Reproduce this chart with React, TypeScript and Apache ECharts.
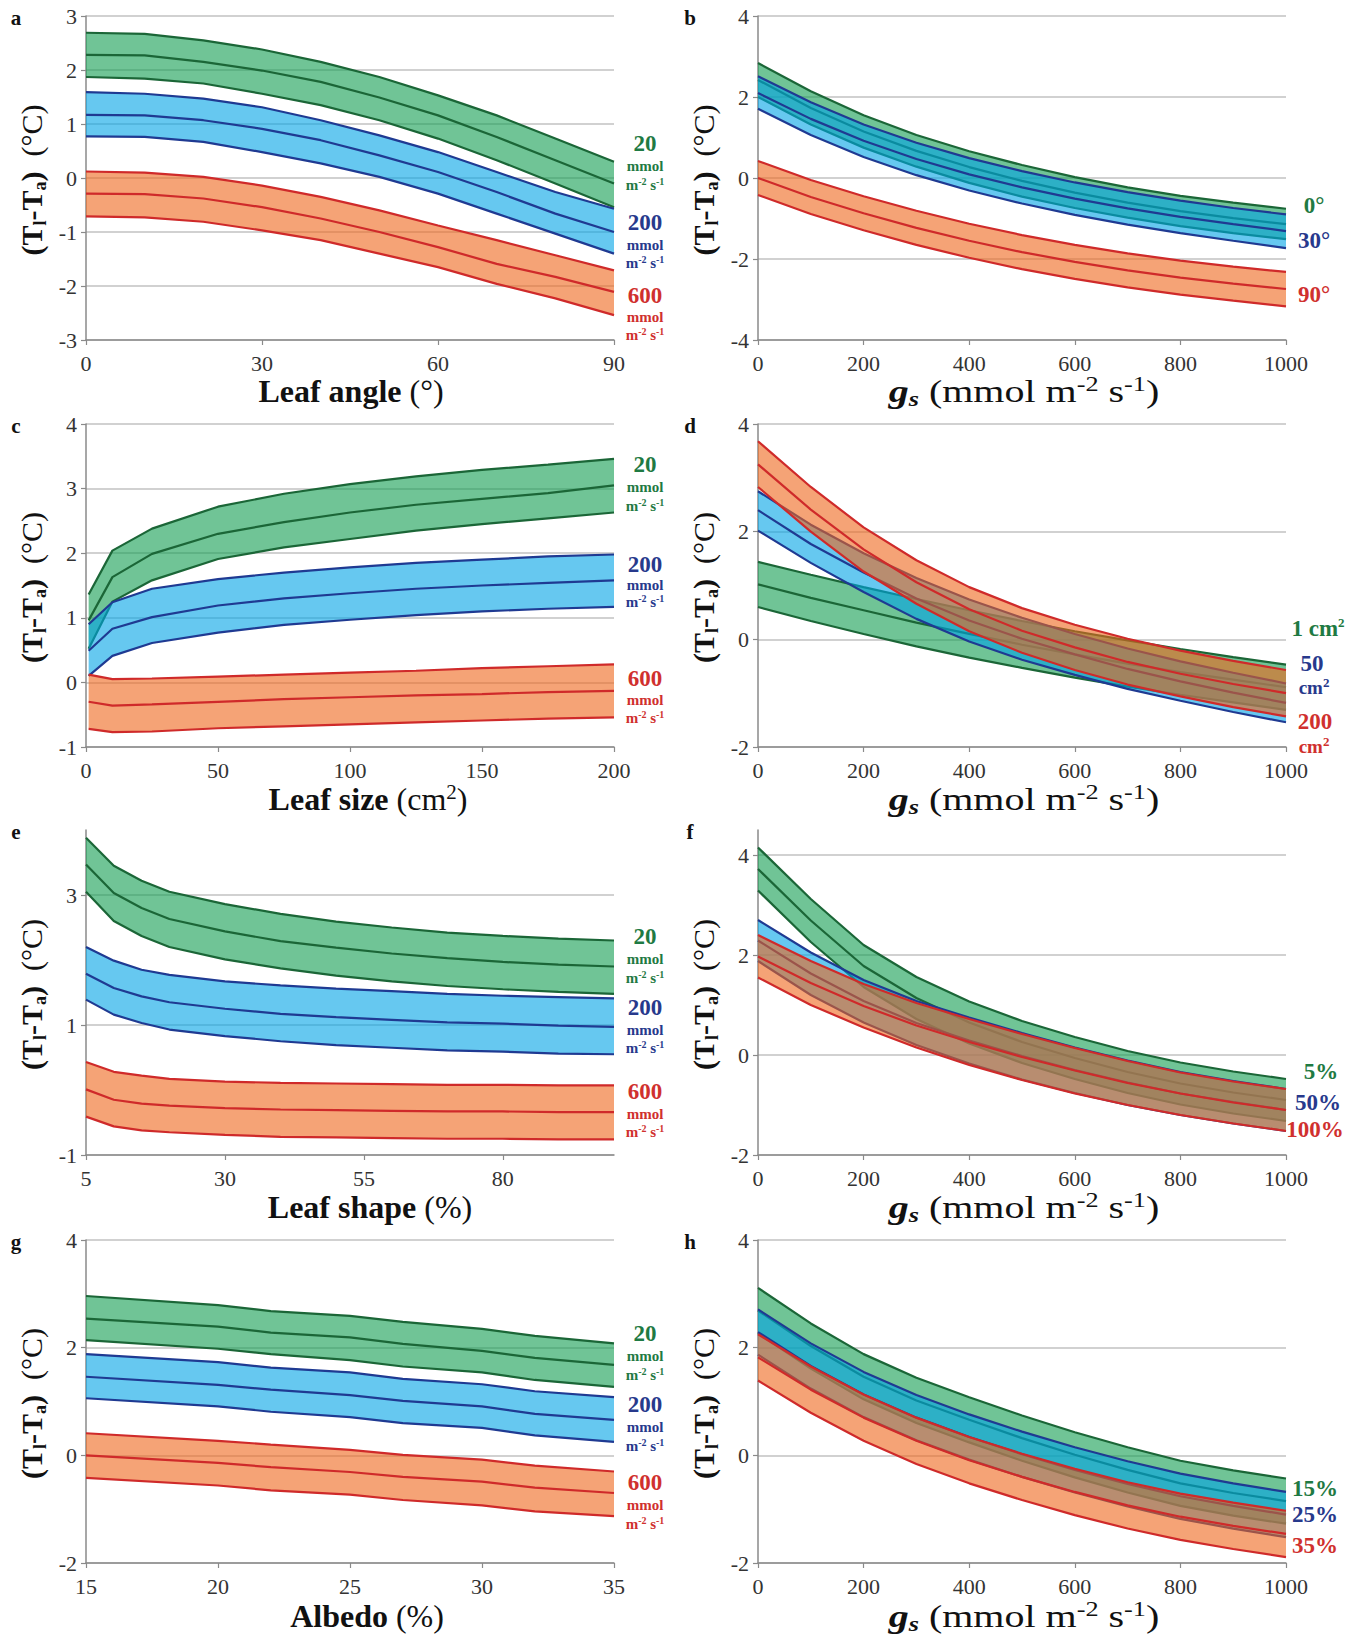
import React, { useEffect, useRef } from 'react';
import * as echarts from 'echarts';

const FONT = "'Liberation Serif', 'Times New Roman', serif";

// ---------- Panel a : leaf angle ----------
const aX = [0, 10, 20, 30, 40, 50, 60, 70, 80, 90];
const a20Up = [2.69, 2.67, 2.55, 2.38, 2.15, 1.87, 1.53, 1.16, 0.73, 0.30];
const a20Mid = [2.28, 2.27, 2.15, 1.99, 1.78, 1.49, 1.16, 0.76, 0.33, -0.10];
const a20Lo = [1.87, 1.84, 1.75, 1.56, 1.35, 1.07, 0.73, 0.33, -0.10, -0.54];
const a200Up = [1.59, 1.56, 1.47, 1.31, 1.07, 0.79, 0.48, 0.11, -0.26, -0.57];
const a200Mid = [1.17, 1.16, 1.07, 0.91, 0.70, 0.42, 0.11, -0.26, -0.66, -1.00];
const a200Lo = [0.77, 0.76, 0.67, 0.48, 0.27, 0.02, -0.29, -0.66, -1.03, -1.40];
const a600Up = [0.12, 0.10, 0.02, -0.14, -0.35, -0.60, -0.88, -1.15, -1.43, -1.71];
const a600Mid = [-0.29, -0.30, -0.38, -0.54, -0.75, -1.00, -1.28, -1.59, -1.83, -2.11];
const a600Lo = [-0.71, -0.73, -0.81, -0.97, -1.15, -1.40, -1.65, -1.96, -2.23, -2.54];
const aXTicks = [0, 30, 60, 90];
const aYTicks = [-3, -2, -1, 0, 1, 2, 3];

// ---------- gs axis shared by b, d, f, h ----------
const gsX = [0, 100, 200, 300, 400, 500, 600, 700, 800, 900, 1000];
const gsTicks = [0, 200, 400, 600, 800, 1000];

// ---------- Panel b : leaf angle vs gs ----------
const b0Up = [2.84, 2.14, 1.55, 1.06, 0.66, 0.32, 0.02, -0.23, -0.44, -0.61, -0.76];
const b0Mid = [2.42, 1.73, 1.15, 0.67, 0.27, -0.07, -0.36, -0.61, -0.82, -0.99, -1.14];
const b0Lo = [2.00, 1.32, 0.75, 0.28, -0.12, -0.46, -0.74, -0.98, -1.19, -1.36, -1.51];
const b30Up = [2.51, 1.87, 1.32, 0.87, 0.49, 0.17, -0.11, -0.35, -0.56, -0.74, -0.90];
const b30Mid = [2.10, 1.46, 0.92, 0.47, 0.09, -0.23, -0.51, -0.75, -0.96, -1.14, -1.31];
const b30Lo = [1.71, 1.06, 0.52, 0.07, -0.31, -0.63, -0.91, -1.15, -1.36, -1.55, -1.73];
const b90Up = [0.42, -0.05, -0.45, -0.81, -1.13, -1.41, -1.65, -1.86, -2.04, -2.19, -2.32];
const b90Mid = [0.00, -0.47, -0.87, -1.23, -1.55, -1.83, -2.07, -2.28, -2.46, -2.61, -2.74];
const b90Lo = [-0.42, -0.89, -1.29, -1.65, -1.97, -2.25, -2.49, -2.70, -2.88, -3.03, -3.17];
const bYTicks = [-4, -2, 0, 2, 4];

// ---------- Panel c : leaf size ----------
const cX = [1, 10, 25, 50, 75, 100, 125, 150, 175, 200];
const c20Up = [1.36, 2.04, 2.38, 2.72, 2.92, 3.07, 3.19, 3.29, 3.37, 3.46];
const c20Mid = [0.96, 1.63, 1.99, 2.30, 2.48, 2.63, 2.75, 2.84, 2.93, 3.05];
const c20Lo = [0.52, 1.25, 1.58, 1.91, 2.09, 2.22, 2.35, 2.45, 2.54, 2.63];
const c200Up = [0.90, 1.24, 1.45, 1.60, 1.70, 1.78, 1.85, 1.90, 1.95, 1.98];
const c200Mid = [0.49, 0.83, 1.01, 1.19, 1.30, 1.38, 1.45, 1.50, 1.54, 1.58];
const c200Lo = [0.10, 0.41, 0.61, 0.77, 0.89, 0.97, 1.04, 1.10, 1.14, 1.17];
const c600Up = [0.12, 0.05, 0.06, 0.09, 0.12, 0.15, 0.18, 0.22, 0.25, 0.28];
const c600Mid = [-0.30, -0.36, -0.34, -0.30, -0.26, -0.23, -0.20, -0.18, -0.15, -0.13];
const c600Lo = [-0.72, -0.77, -0.76, -0.71, -0.68, -0.65, -0.62, -0.59, -0.56, -0.54];
const cXTicks = [0, 50, 100, 150, 200];
const cYTicks = [-1, 0, 1, 2, 3, 4];

// ---------- Panel d : leaf size vs gs ----------
const d1Up = [1.44, 1.20, 0.97, 0.75, 0.54, 0.34, 0.15, -0.02, -0.18, -0.33, -0.47];
const d1Mid = [1.02, 0.77, 0.54, 0.31, 0.10, -0.10, -0.28, -0.45, -0.61, -0.75, -0.89];
const d1Lo = [0.60, 0.34, 0.10, -0.13, -0.34, -0.53, -0.71, -0.88, -1.03, -1.17, -1.31];
const d50Up = [2.75, 2.13, 1.60, 1.14, 0.74, 0.40, 0.10, -0.17, -0.41, -0.62, -0.82];
const d50Mid = [2.40, 1.77, 1.24, 0.76, 0.35, 0.01, -0.28, -0.55, -0.78, -0.99, -1.18];
const d50Lo = [2.02, 1.42, 0.88, 0.38, -0.04, -0.38, -0.66, -0.92, -1.14, -1.35, -1.54];
const d200Up = [3.68, 2.83, 2.08, 1.47, 0.97, 0.58, 0.27, 0.01, -0.21, -0.40, -0.57];
const d200Mid = [3.25, 2.41, 1.67, 1.06, 0.56, 0.16, -0.15, -0.42, -0.64, -0.83, -1.00];
const d200Lo = [2.83, 2.00, 1.26, 0.66, 0.15, -0.25, -0.57, -0.84, -1.06, -1.26, -1.43];
const dYTicks = [-2, 0, 2, 4];

// ---------- Panel e : leaf shape ----------
const eX = [5, 10, 15, 20, 30, 40, 50, 60, 70, 80, 90, 100];
const e20Up = [3.88, 3.45, 3.22, 3.05, 2.86, 2.71, 2.59, 2.50, 2.42, 2.37, 2.33, 2.30];
const e20Mid = [3.47, 3.03, 2.80, 2.63, 2.44, 2.29, 2.19, 2.10, 2.03, 1.97, 1.93, 1.90];
const e20Lo = [3.05, 2.60, 2.37, 2.20, 2.01, 1.87, 1.76, 1.67, 1.60, 1.55, 1.51, 1.48];
const e200Up = [2.20, 1.99, 1.85, 1.77, 1.67, 1.61, 1.56, 1.52, 1.48, 1.45, 1.43, 1.41];
const e200Mid = [1.79, 1.57, 1.44, 1.35, 1.25, 1.17, 1.12, 1.08, 1.04, 1.02, 0.99, 0.97];
const e200Lo = [1.39, 1.16, 1.03, 0.93, 0.83, 0.75, 0.69, 0.65, 0.61, 0.59, 0.56, 0.55];
const e600Up = [0.43, 0.28, 0.22, 0.17, 0.13, 0.11, 0.10, 0.09, 0.08, 0.08, 0.07, 0.07];
const e600Mid = [0.01, -0.15, -0.21, -0.24, -0.28, -0.30, -0.31, -0.32, -0.33, -0.33, -0.34, -0.34];
const e600Lo = [-0.41, -0.56, -0.62, -0.65, -0.69, -0.72, -0.73, -0.74, -0.75, -0.75, -0.76, -0.76];
const eXTicks = [5, 30, 55, 80];
const eYTicks = [-1, 1, 3];

// ---------- Panel f : leaf shape vs gs ----------
const f5Up = [4.15, 3.12, 2.20, 1.56, 1.07, 0.68, 0.36, 0.08, -0.15, -0.33, -0.48];
const f5Mid = [3.72, 2.69, 1.78, 1.14, 0.65, 0.26, -0.06, -0.34, -0.57, -0.75, -0.90];
const f5Lo = [3.29, 2.26, 1.36, 0.72, 0.23, -0.16, -0.48, -0.76, -0.99, -1.17, -1.32];
const f50Up = [2.70, 2.05, 1.50, 1.08, 0.75, 0.44, 0.15, -0.11, -0.34, -0.52, -0.68];
const f50Mid = [2.29, 1.63, 1.08, 0.64, 0.29, -0.02, -0.30, -0.55, -0.77, -0.94, -1.10];
const f50Lo = [1.88, 1.20, 0.65, 0.20, -0.17, -0.49, -0.76, -1.00, -1.20, -1.37, -1.52];
const f100Up = [2.40, 1.88, 1.42, 1.04, 0.72, 0.42, 0.14, -0.12, -0.35, -0.53, -0.68];
const f100Mid = [1.97, 1.44, 0.98, 0.59, 0.26, -0.04, -0.31, -0.56, -0.77, -0.95, -1.10];
const f100Lo = [1.55, 1.00, 0.55, 0.15, -0.20, -0.50, -0.77, -1.00, -1.20, -1.37, -1.52];
const fYTicks = [-2, 0, 2, 4];

// ---------- Panel g : albedo ----------
const gX = [15, 20, 22, 25, 27, 30, 32, 35];
const g20Up = [2.96, 2.79, 2.68, 2.59, 2.48, 2.35, 2.22, 2.08];
const g20Mid = [2.54, 2.39, 2.28, 2.19, 2.07, 1.94, 1.81, 1.68];
const g20Lo = [2.14, 1.98, 1.88, 1.77, 1.65, 1.54, 1.40, 1.27];
const g200Up = [1.88, 1.73, 1.63, 1.54, 1.42, 1.32, 1.19, 1.08];
const g200Mid = [1.46, 1.31, 1.22, 1.12, 1.01, 0.91, 0.77, 0.66];
const g200Lo = [1.06, 0.91, 0.81, 0.71, 0.60, 0.51, 0.37, 0.25];
const g600Up = [0.41, 0.27, 0.20, 0.10, 0.01, -0.08, -0.19, -0.30];
const g600Mid = [0.00, -0.14, -0.22, -0.31, -0.40, -0.49, -0.60, -0.70];
const g600Lo = [-0.42, -0.56, -0.65, -0.73, -0.83, -0.93, -1.04, -1.13];
const gXTicks = [15, 20, 25, 30, 35];
const gYTicks = [-2, 0, 2, 4];

// ---------- Panel h : albedo vs gs ----------
const h15Up = [3.11, 2.45, 1.88, 1.44, 1.08, 0.74, 0.43, 0.15, -0.10, -0.28, -0.43];
const h15Mid = [2.69, 2.03, 1.46, 1.02, 0.66, 0.32, 0.01, -0.27, -0.52, -0.70, -0.85];
const h15Lo = [2.27, 1.61, 1.04, 0.60, 0.24, -0.10, -0.41, -0.69, -0.94, -1.12, -1.27];
const h25Up = [2.71, 2.08, 1.55, 1.12, 0.76, 0.44, 0.15, -0.11, -0.34, -0.52, -0.68];
const h25Mid = [2.29, 1.66, 1.13, 0.70, 0.34, 0.02, -0.27, -0.53, -0.76, -0.94, -1.10];
const h25Lo = [1.87, 1.24, 0.71, 0.28, -0.08, -0.40, -0.69, -0.95, -1.18, -1.36, -1.52];
const h35Up = [2.25, 1.65, 1.13, 0.70, 0.34, 0.03, -0.25, -0.50, -0.71, -0.88, -1.03];
const h35Mid = [1.82, 1.22, 0.70, 0.27, -0.09, -0.40, -0.68, -0.93, -1.14, -1.31, -1.46];
const h35Lo = [1.39, 0.79, 0.27, -0.16, -0.52, -0.83, -1.11, -1.36, -1.57, -1.74, -1.89];
const hYTicks = [-2, 0, 2, 4];

// ---------- styles ----------
const COL = {
  g: { fill: 'rgba(17,157,80,0.6)', line: '#1b6637', text: '#1f7a43' },
  b: { fill: 'rgba(0,163,230,0.6)', line: '#1f3a92', text: '#27398c' },
  r: { fill: 'rgba(238,102,27,0.6)', line: '#cf2a2a', text: '#d0302e' },
};

const GRIDS = [
  { left: 86, top: 16, width: 528, height: 324 },
  { left: 758, top: 16, width: 528, height: 324 },
  { left: 86, top: 424, width: 528, height: 323 },
  { left: 758, top: 424, width: 528, height: 323 },
  { left: 86, top: 830, width: 528, height: 325 },
  { left: 758, top: 830, width: 528, height: 325 },
  { left: 86, top: 1240, width: 528, height: 323 },
  { left: 758, top: 1240, width: 528, height: 323 },
];

const PANELS = [
  { x: [0, 90, aXTicks], y: [-3, 3, aYTicks], xs: aX,
    bands: [[a20Up, a20Mid, a20Lo, 'g'], [a200Up, a200Mid, a200Lo, 'b'], [a600Up, a600Mid, a600Lo, 'r']] },
  { x: [0, 1000, gsTicks], y: [-4, 4, bYTicks], xs: gsX,
    bands: [[b0Up, b0Mid, b0Lo, 'g'], [b30Up, b30Mid, b30Lo, 'b'], [b90Up, b90Mid, b90Lo, 'r']] },
  { x: [0, 200, cXTicks], y: [-1, 4, cYTicks], xs: cX,
    bands: [[c20Up, c20Mid, c20Lo, 'g'], [c200Up, c200Mid, c200Lo, 'b'], [c600Up, c600Mid, c600Lo, 'r']] },
  { x: [0, 1000, gsTicks], y: [-2, 4, dYTicks], xs: gsX,
    bands: [[d1Up, d1Mid, d1Lo, 'g'], [d50Up, d50Mid, d50Lo, 'b'], [d200Up, d200Mid, d200Lo, 'r']] },
  { x: [5, 100, eXTicks], y: [-1, 4, eYTicks], xs: eX,
    bands: [[e20Up, e20Mid, e20Lo, 'g'], [e200Up, e200Mid, e200Lo, 'b'], [e600Up, e600Mid, e600Lo, 'r']] },
  { x: [0, 1000, gsTicks], y: [-2, 4.5, fYTicks], xs: gsX,
    bands: [[f5Up, f5Mid, f5Lo, 'g'], [f50Up, f50Mid, f50Lo, 'b'], [f100Up, f100Mid, f100Lo, 'r']] },
  { x: [15, 35, gXTicks], y: [-2, 4, gYTicks], xs: gX,
    bands: [[g20Up, g20Mid, g20Lo, 'g'], [g200Up, g200Mid, g200Lo, 'b'], [g600Up, g600Mid, g600Lo, 'r']] },
  { x: [0, 1000, gsTicks], y: [-2, 4, hYTicks], xs: gsX,
    bands: [[h15Up, h15Mid, h15Lo, 'g'], [h25Up, h25Mid, h25Lo, 'b'], [h35Up, h35Mid, h35Lo, 'r']] },
];

function bandSeries(pi: number, xs: number[], up: number[], mid: number[], lo: number[], c: any, z: number) {
  const fill = {
    type: 'custom', xAxisIndex: pi, yAxisIndex: pi, z, silent: true, clip: true,
    data: [[xs[0], up[0]]],
    renderItem: (_p: any, api: any) => {
      const pts: number[][] = [];
      for (let i = 0; i < xs.length; i++) pts.push(api.coord([xs[i], up[i]]));
      for (let i = xs.length - 1; i >= 0; i--) pts.push(api.coord([xs[i], lo[i]]));
      return { type: 'polygon', shape: { points: pts }, style: { fill: c.fill, stroke: null } };
    },
  };
  const line = (ys: number[]) => ({
    type: 'line', xAxisIndex: pi, yAxisIndex: pi, z: z + 1, silent: true,
    symbol: 'none', showSymbol: false, animation: false,
    data: xs.map((x, i) => [x, ys[i]]),
    lineStyle: { color: c.line, width: 2.2 },
    emphasis: { disabled: true },
  });
  return [fill, line(up), line(mid), line(lo)];
}

const AX = '#8a8a8a';
const TXT = '#111';

const richAxis = {
  b: { font: `bold 32px ${FONT}`, fill: TXT, lineHeight: 36 },
  n: { font: `32px ${FONT}`, fill: TXT, lineHeight: 36 },
  gi: { font: `italic bold 32px ${FONT}`, fill: TXT, lineHeight: 36 },
  gs: { font: `italic bold 21px ${FONT}`, fill: TXT, verticalAlign: 'bottom' },
  sup: { font: `21px ${FONT}`, fill: TXT, verticalAlign: 'top' },
};
const richY = {
  b: { font: `bold 30px ${FONT}`, fill: TXT, lineHeight: 36 },
  n: { font: `30px ${FONT}`, fill: TXT, lineHeight: 36 },
  s: { font: `bold 18px ${FONT}`, fill: TXT, verticalAlign: 'bottom' },
};
const labRich = (c: any) => ({
  big: { font: `bold 23px ${FONT}`, fill: c.text, lineHeight: 25 },
  small: { font: `bold 15px ${FONT}`, fill: c.text, lineHeight: 18 },
  sup: { font: `bold 10px ${FONT}`, fill: c.text, verticalAlign: 'top' },
  bsup: { font: `bold 13px ${FONT}`, fill: c.text, verticalAlign: 'top' },
  mid: { font: `bold 19px ${FONT}`, fill: c.text, lineHeight: 22 },
});

const T = (x: number, y: number, text: string, rich: any, extra: any = {}) => ({
  type: 'text', x, y, silent: true, z: 100,
  style: { text, rich, align: 'center', verticalAlign: 'middle' },
  ...(extra.rotation ? { rotation: extra.rotation } : {}),
  ...(extra.scaleX ? { scaleX: extra.scaleX } : {}),
});

const GS_TITLE = '{gi|g}{gs|s}{n| (mmol m}{sup|-2}{n| s}{sup|-1}{n|)}';
const Y_TITLE = '{b|(T}{s|l}{b|-T}{s|a}{b|)}{n|  (°C)}';

function unitLabels(x: number, ys: number[]) {
  const names = ['20', '200', '600'];
  const cols = [COL.g, COL.b, COL.r];
  const out: any[] = [];
  names.forEach((nm, i) => {
    const r = labRich(cols[i]);
    out.push(T(x, ys[i * 3], `{big|${nm}}`, r));
    out.push(T(x, ys[i * 3 + 1], '{small|mmol}', r));
    out.push(T(x, ys[i * 3 + 2], '{small|m}{sup|-2}{small| s}{sup|-1}', r));
  });
  return out;
}

function buildGraphics() {
  const g: any[] = [];
  const letters = ['a', 'b', 'c', 'd', 'e', 'f', 'g', 'h'];
  letters.forEach((l, i) => {
    const gr = GRIDS[i];
    const lx = i % 2 === 0 ? 16 : 690;
    g.push({ type: 'text', x: lx, y: gr.top + 2, silent: true, z: 100,
      style: { text: l, font: `bold 21px ${FONT}`, fill: TXT, align: 'center', verticalAlign: 'middle' } });
    const yx = i % 2 === 0 ? 31 : 703;
    g.push(T(yx, gr.top + gr.height / 2 + 2, Y_TITLE, richY, { rotation: Math.PI / 2 }));
  });
  // x titles
  const gsScale = 1.25;
  g.push(T(351, 391, '{b|Leaf angle}{n| (°)}', richAxis));
  g.push(T(1024, 391, GS_TITLE, richAxis, { scaleX: gsScale }));
  g.push(T(368, 799, '{b|Leaf size}{n| (cm}{sup|2}{n|)}', richAxis));
  g.push(T(1024, 799, GS_TITLE, richAxis, { scaleX: gsScale }));
  g.push(T(370, 1207, '{b|Leaf shape}{n| (%)}', richAxis));
  g.push(T(1024, 1207, GS_TITLE, richAxis, { scaleX: gsScale }));
  g.push(T(367, 1616, '{b|Albedo}{n| (%)}', richAxis));
  g.push(T(1024, 1616, GS_TITLE, richAxis, { scaleX: gsScale }));

  // right labels, left column
  g.push(...unitLabels(645, [143, 166, 185, 222, 245, 263, 295, 317, 335]));
  g.push(...unitLabels(645, [464, 487, 506, 564, 585, 602, 678, 700, 718]));
  g.push(...unitLabels(645, [936, 959, 978, 1007, 1030, 1048, 1091, 1114, 1132]));
  g.push(...unitLabels(645, [1333, 1356, 1375, 1404, 1427, 1446, 1482, 1505, 1524]));

  // right labels, right column
  const rg = labRich(COL.g), rb = labRich(COL.b), rr = labRich(COL.r);
  g.push(T(1314, 205, '{big|0°}', rg));
  g.push(T(1314, 240, '{big|30°}', rb));
  g.push(T(1314, 294, '{big|90°}', rr));

  g.push(T(1318, 628, '{big|1 cm}{bsup|2}', rg));
  g.push(T(1312, 663, '{big|50}', rb));
  g.push(T(1314, 687, '{mid|cm}{bsup|2}', rb));
  g.push(T(1315, 721, '{big|200}', rr));
  g.push(T(1314, 746, '{mid|cm}{bsup|2}', rr));

  g.push(T(1321, 1071, '{big|5%}', rg));
  g.push(T(1318, 1102, '{big|50%}', rb));
  g.push(T(1315, 1129, '{big|100%}', rr));

  g.push(T(1315, 1488, '{big|15%}', rg));
  g.push(T(1315, 1514, '{big|25%}', rb));
  g.push(T(1315, 1545, '{big|35%}', rr));
  return g;
}

function buildOption() {
  const xAxis: any[] = [];
  const yAxis: any[] = [];
  const series: any[] = [];
  const fmt = (v: number) => String(v);
  PANELS.forEach((p, i) => {
    const [xmin, xmax, xt] = p.x as any;
    const [ymin, ymax, yt] = p.y as any;
    xAxis.push({
      type: 'value', gridIndex: i, min: xmin, max: xmax,
      axisLine: { show: true, onZero: false, lineStyle: { color: AX, width: 1.5 } },
      axisTick: { show: true, length: 5, customValues: xt, lineStyle: { color: AX, width: 1.2 } },
      axisLabel: { customValues: xt, formatter: fmt, fontFamily: FONT, fontSize: 22, color: '#333', margin: 12 },
      splitLine: { show: false },
    });
    yAxis.push({
      type: 'value', gridIndex: i, min: ymin, max: ymax,
      axisLine: { show: true, onZero: false, lineStyle: { color: AX, width: 1.5 } },
      axisTick: { show: true, length: 5, customValues: yt, lineStyle: { color: AX, width: 1.2 } },
      axisLabel: { customValues: yt, formatter: fmt, fontFamily: FONT, fontSize: 22, color: '#333', margin: 9 },
      splitLine: { show: true, lineStyle: { color: '#c2c2c2', width: 1.5 } },
    });
    p.bands.forEach((bd: any, k: number) => {
      series.push(...bandSeries(i, p.xs, bd[0], bd[1], bd[2], (COL as any)[bd[3]], 2 + k * 2));
    });
  });
  return {
    animation: false,
    backgroundColor: '#ffffff',
    grid: GRIDS.map((g) => ({ ...g, containLabel: false })),
    xAxis, yAxis, series,
    graphic: { elements: buildGraphics() },
  };
}

export default function App() {
  const ref = useRef<HTMLDivElement>(null);
  useEffect(() => {
    if (!ref.current) return;
    const chart = echarts.init(ref.current, null as any, { renderer: 'svg' });
    chart.setOption(buildOption() as any);
    return () => chart.dispose();
  }, []);
  return (
    <div
      ref={ref}
      style={{ position: 'absolute', left: 0, top: 0, width: 1359, height: 1634, background: '#fff' }}
    />
  );
}
